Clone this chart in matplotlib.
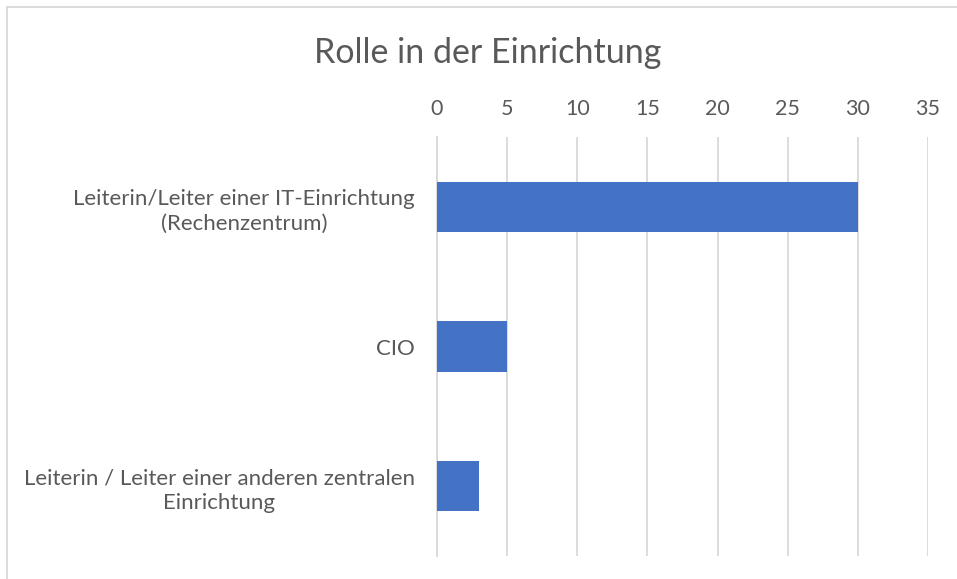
import matplotlib.pyplot as plt
from matplotlib.lines import Line2D

# data
roles = ["Leiterin/Leiter einer IT-Einrichtung\n(Rechenzentrum)",
         "CIO",
         "Leiterin / Leiter einer anderen zentralen\nEinrichtung"]
counts = [30, 5, 3]
x_ticks = [0, 5, 10, 15, 20, 25, 30, 35]

plt.rcParams['font.family'] = ['Lato', 'DejaVu Sans']
text_color = "#595959"
grid_color = "#D9D9D9"

fig = plt.figure(figsize=(9.57, 5.79), dpi=100)
ax = fig.add_axes([0.4566, 0.0397, 0.5131, 0.7237])

ypos = list(range(len(roles)))
ax.barh(ypos, counts, height=0.36, color="#4472C4", zorder=3)
ax.set_ylim(len(roles) - 0.5, -0.5)
ax.set_yticks(ypos)
ax.set_yticklabels(roles, ha="right", multialignment="center", linespacing=1.3)
ax.tick_params(axis="y", length=0, pad=16, labelsize=16, labelcolor=text_color)

ax.set_xlim(0, 35)
ax.set_xticks(x_ticks)
ax.xaxis.tick_top()
ax.tick_params(axis="x", length=0, pad=13, labelsize=15.5, labelcolor=text_color)
ax.grid(axis="x", color=grid_color, linewidth=1.3, zorder=0)

for side in ["top", "right", "bottom"]:
    ax.spines[side].set_visible(False)
ax.spines["left"].set_color(grid_color)
ax.spines["left"].set_linewidth(1.3)

fig.text(0.51, 0.9085, "Rolle in der Einrichtung", ha="center", va="center",
         fontsize=24.5, color=text_color)

# chart border (only top and left edges fall inside the image)
fig.lines.append(Line2D([7 / 957, 1.0], [1 - 7 / 579, 1 - 7 / 579],
                        transform=fig.transFigure, color=grid_color, linewidth=1.3))
fig.lines.append(Line2D([7 / 957, 7 / 957], [0.0, 1 - 7 / 579],
                        transform=fig.transFigure, color=grid_color, linewidth=1.3))

fig.savefig("out.png", dpi=100)
